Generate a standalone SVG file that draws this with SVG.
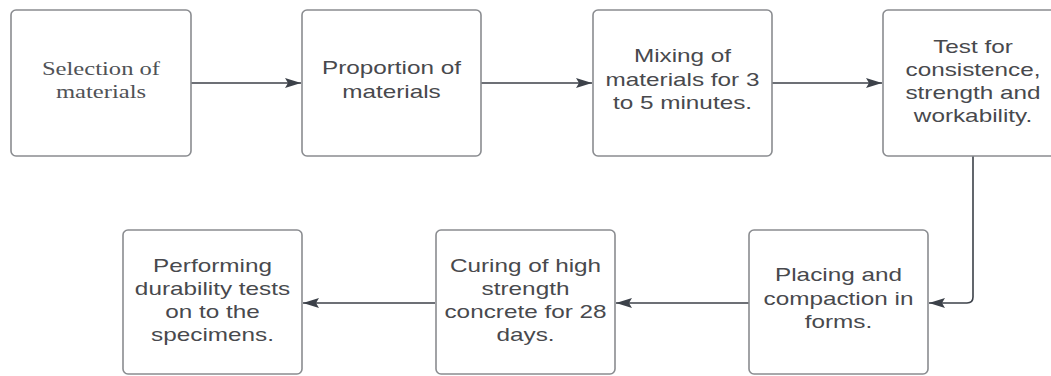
<svg xmlns="http://www.w3.org/2000/svg" width="1051" height="376" viewBox="0 0 1051 376">
<style>
.box{fill:#fff;stroke:#8a8c90;stroke-width:1.6}
.t{font-family:"Liberation Sans",Arial,sans-serif;font-size:18px;fill:#48494d;text-anchor:middle}
.s{font-family:"Liberation Serif","Times New Roman",serif;font-size:18.5px;fill:#505256;text-anchor:middle}
.c{fill:none;stroke:#3c4149;stroke-width:1.6}
</style>
<defs>
<marker id="ah" markerUnits="userSpaceOnUse" markerWidth="18" markerHeight="12" refX="16" refY="5" orient="auto">
<path d="M0,0 L16,5 L0,10 L3,5 z" fill="#3c4149"/>
</marker>
</defs>
<rect width="1051" height="376" fill="#fff"/>
<g id="connectors">
<path class="c" d="M191,83 H301" marker-end="url(#ah)"/>
<path class="c" d="M481,83 H592" marker-end="url(#ah)"/>
<path class="c" d="M772,83 H882" stroke-width="2" marker-end="url(#ah)"/>
<path class="c" d="M973,156 V297 Q973,303 967,303 H929" stroke-width="2" marker-end="url(#ah)"/>
<path class="c" d="M749,303 H616" stroke-width="2" marker-end="url(#ah)"/>
<path class="c" d="M435,303 H303" stroke-width="2" marker-end="url(#ah)"/>
</g>
<g id="n1">
<rect class="box" x="11" y="10" width="180" height="146" rx="5"/>
<g transform="translate(101 0) scale(1.33 1)"><text class="s" x="0" y="75">Selection of</text><text class="s" x="0" y="98">materials</text></g>
</g>
<g id="n2">
<rect class="box" x="302" y="10" width="179" height="146" rx="5"/>
<g transform="translate(391.5 0) scale(1.35 1)"><text class="t" x="0" y="74">Proportion of</text><text class="t" x="0" y="98">materials</text></g>
</g>
<g id="n3">
<rect class="box" x="593" y="10" width="179" height="146" rx="5"/>
<g transform="translate(682.5 0) scale(1.35 1)"><text class="t" x="0" y="62">Mixing of</text><text class="t" x="0" y="86">materials for 3</text><text class="t" x="0" y="109">to 5 minutes.</text></g>
</g>
<g id="n4">
<rect class="box" x="883" y="10" width="180" height="146" rx="5"/>
<g transform="translate(973 0) scale(1.35 1)"><text class="t" x="0" y="53">Test for</text><text class="t" x="0" y="76">consistence,</text><text class="t" x="0" y="99">strength and</text><text class="t" x="0" y="122">workability.</text></g>
</g>
<g id="n5">
<rect class="box" x="749" y="230" width="179" height="144" rx="5"/>
<g transform="translate(838.5 0) scale(1.35 1)"><text class="t" x="0" y="281">Placing and</text><text class="t" x="0" y="305">compaction in</text><text class="t" x="0" y="328">forms.</text></g>
</g>
<g id="n6">
<rect class="box" x="436" y="230" width="179" height="144" rx="5"/>
<g transform="translate(525.5 0) scale(1.35 1)"><text class="t" x="0" y="272">Curing of high</text><text class="t" x="0" y="295">strength</text><text class="t" x="0" y="318">concrete for 28</text><text class="t" x="0" y="341">days.</text></g>
</g>
<g id="n7">
<rect class="box" x="123" y="230" width="179" height="144" rx="5"/>
<g transform="translate(212.5 0) scale(1.35 1)"><text class="t" x="0" y="272">Performing</text><text class="t" x="0" y="295">durability tests</text><text class="t" x="0" y="318">on to the</text><text class="t" x="0" y="341">specimens.</text></g>
</g>
</svg>
